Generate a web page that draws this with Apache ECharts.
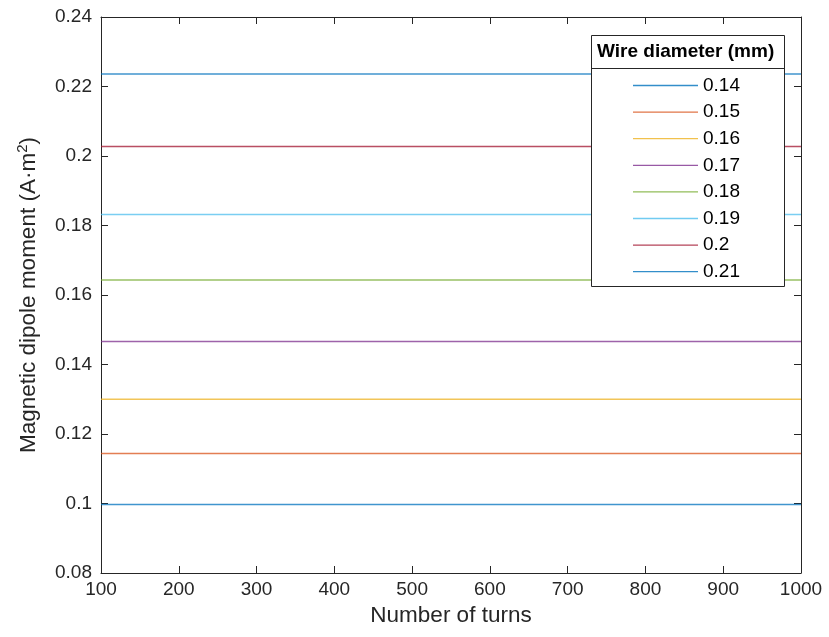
<!DOCTYPE html>
<html>
<head>
<meta charset="utf-8">
<script src="https://cdn.jsdelivr.net/npm/echarts@6/dist/echarts.min.js"></script>
<style>html,body{margin:0;padding:0;background:#fff}#c{width:829px;height:637px}</style>
</head>
<body>
<div id="c"></div>
<script>
const diameters = ['0.14','0.15','0.16','0.17','0.18','0.19','0.2','0.21'];
const moments = [0.0997, 0.1144, 0.1300, 0.1466, 0.1643, 0.1832, 0.2027, 0.2236];
const turns = [100, 1000];
const colors = ['#0072BD','#D95319','#EDB120','#7E2F8E','#77AC30','#4DBEEE','#A2142F','#0072BD'];

const FONT = 'Liberation Sans, Arial, sans-serif';
const AX = '#262626';
const chart = echarts.init(document.getElementById('c'), null, {renderer:'canvas'});

const series = diameters.map((d,i)=>({
  name: d, type:'line', symbol:'none', showSymbol:false,
  xAxisIndex:0, yAxisIndex:0, z:2,
  lineStyle:{color:colors[i], width:1.5, opacity:0.75},
  itemStyle:{color:colors[i], opacity:0.8},
  data: turns.map(t=>[t, moments[i]])
}));

const baseX = {
  type:'value', min:100, max:1000, interval:100,
  axisLine:{show:true, onZero:false, lineStyle:{color:AX, width:1}},
  axisTick:{show:true, inside:true, length:7, lineStyle:{color:AX}},
  splitLine:{show:false}
};
const baseY = {
  type:'value', min:0.08, max:0.24, interval:0.02,
  axisLine:{show:true, onZero:false, lineStyle:{color:AX, width:1}},
  axisTick:{show:true, inside:true, length:7, lineStyle:{color:AX}},
  splitLine:{show:false}
};

chart.setOption({
  animation:false,
  backgroundColor:'#fff',
  grid:{left:101, right:28, top:17, bottom:64, containLabel:false},
  xAxis:[
    Object.assign({}, baseX, {position:'bottom',
      name:'Number of turns', nameLocation:'middle', nameGap:29,
      nameTextStyle:{fontFamily:FONT, fontSize:22.5, color:AX},
      axisLabel:{fontFamily:FONT, fontSize:19, color:AX, margin:7, formatter:v=>String(v)}}),
    Object.assign({}, baseX, {position:'top', axisLabel:{show:false}})
  ],
  yAxis:[
    Object.assign({}, baseY, {position:'left',
      name:'{n|Magnetic dipole moment (A·m}{s|2}{n|)}', nameLocation:'middle', nameGap:59,
      nameTextStyle:{rich:{
        n:{fontFamily:FONT, fontSize:22.5, color:AX},
        s:{fontFamily:FONT, fontSize:15, color:AX, verticalAlign:'top', padding:[0,0,12,0]}
      }},
      axisLabel:{fontFamily:FONT, fontSize:19, color:AX, margin:9,
        formatter:v=>String(parseFloat(v.toFixed(2)))}}),
    Object.assign({}, baseY, {position:'right', axisLabel:{show:false}})
  ],
  legend:{
    orient:'vertical', left:633, top:76, z:6, padding:0,
    itemWidth:65, itemHeight:14, itemGap:7.6,
    icon:'path://M0,0 L65,0 L65,1.3 L0,1.3 Z',
    textStyle:{fontFamily:FONT, fontSize:19, color:'#000'},
    data: diameters
  },
  graphic:[
    {type:'rect', shape:{x:591.5, y:35.5, width:193, height:251}, style:{fill:'#fff', stroke:AX, lineWidth:1}, z:3},
    {type:'line', shape:{x1:591.5, y1:68.5, x2:784.5, y2:68.5}, style:{stroke:AX, lineWidth:1}, z:3},
    {type:'text', left:597, top:42, style:{text:'Wire diameter (mm)', font:'bold 19px '+FONT, fill:'#000'}, z:7}
  ],
  series: series
});
</script>
</body>
</html>
